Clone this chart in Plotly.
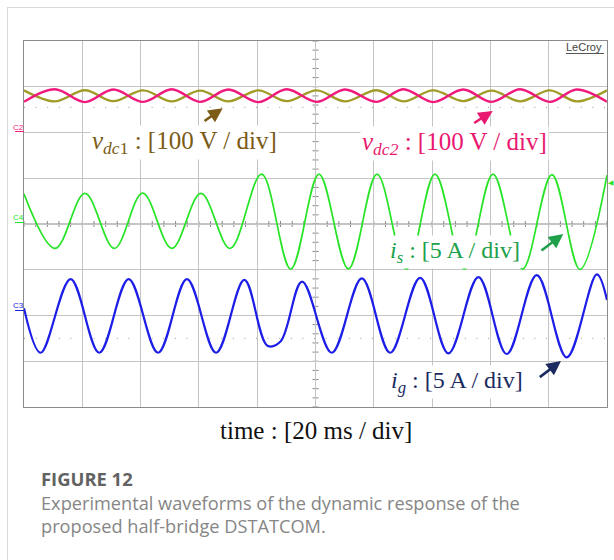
import plotly.graph_objects as go

# ---------------- data ----------------
# time in ms (20 ms/div, 10 divisions)
vdc_t = [0.0, 10.6, 20.9, 30.6, 40.9, 50.7, 60.4, 70.1, 80.4, 90.1, 100.4,
         110.1, 121.0, 130.1, 140.4, 150.7, 160.4, 170.2, 180.4, 189.6, 200.0]
# capacitor voltages in V, relative to the channel reference marker (100 V/div)
vdc1_v = [92, 68, 92.5, 68.5, 92, 68, 91.5, 68, 92, 68.5, 92,
          68, 92.5, 68, 92, 68.5, 91.5, 68, 92, 68, 92]
vdc2_v = [67, 94.5, 66.5, 94, 67, 94.5, 67, 94, 66.5, 94.5, 67,
          94, 67, 94.5, 66.5, 94, 67, 94.5, 67, 94, 67]

# source current i_s in A (5 A/div)
is_t = [0.0, 10.7, 20.9, 31.0, 40.7, 50.7, 60.7, 70.7, 81.5, 91.5, 101.2,
        111.3, 121.1, 131.2, 141.0, 151.1, 160.9, 171.0, 181.1, 190.7, 200.0]
is_v = [3.3, -2.67, 3.35, -2.67, 3.38, -2.67, 3.35, -2.67, 5.44, -4.93, 5.44,
        -4.91, 5.44, -4.93, 5.44, -4.93, 5.44, -4.93, 5.4, -4.96, 5.33]

# grid current i_g in A (5 A/div)
ig_t = [0.0, 5.7, 16.0, 25.8, 35.9, 46.0, 55.9, 65.9, 75.6, 83.5, 88.0, 95.4,
        105.6, 115.9, 125.6, 135.9, 145.6, 155.9, 165.6, 175.9, 186.2, 196.5, 200.0]
ig_v = [0.8, -4.07, 3.98, -4.07, 3.98, -4.07, 3.98, -4.07, 3.9, -3.3, -2.85, 3.71,
        -4.07, 4.05, -4.07, 4.12, -4.14, 4.2, -4.21, 4.41, -4.57, 4.49, 1.7]

# channel settings: (units per division, reference position in divisions)
CH = {"vdc": (100.0, 2.0), "is": (5.0, 0.0), "ig": (5.0, -2.0)}

# ---------------- geometry helpers ----------------
W, H = 614, 560
L, R, T, B = 24, 7, 41, 153
PW, PH = W - L - R, H - T - B
TSPAN, NDIV = 200.0, 8


def xd(px):
    return (px - L) / PW * TSPAN


def yd(py):
    return NDIV / 2 - (py - T) / PH * NDIV


def xp(px):
    return (px - L) / PW


def yp(py):
    return (H - B - py) / PH


def to_div(vals, ch):
    s, off = CH[ch]
    return [v / s + off for v in vals]


OLIVE = "#a19b28"
PINK = "#ef1a7b"
GREEN = "#27e427"
BLUE = "#1d1de8"

fig = go.Figure()
for t, v, ch, col, w in [
    (vdc_t, vdc1_v, "vdc", OLIVE, 2.4),
    (vdc_t, vdc2_v, "vdc", PINK, 2.4),
    (is_t, is_v, "is", GREEN, 1.7),
    (ig_t, ig_v, "ig", BLUE, 2.2),
]:
    fig.add_trace(go.Scatter(x=t, y=to_div(v, ch), mode="lines",
                             line=dict(color=col, width=w, shape="spline", smoothing=1),
                             hoverinfo="skip", showlegend=False))

shapes = []
# centre cross lines with minor ticks
shapes.append(dict(type="line", xref="x", yref="y", x0=100, x1=100, y0=-4, y1=4,
                   line=dict(color="#8a8a8a", width=1), layer="below"))
shapes.append(dict(type="line", xref="x", yref="y", x0=0, x1=200, y0=0, y1=0,
                   line=dict(color="#8a8a8a", width=1), layer="below"))
tx = 3 * TSPAN / PW
ty = 3 * NDIV / PH
for i in range(41):
    yy = -4 + i * 0.2
    shapes.append(dict(type="line", xref="x", yref="y", x0=100 - tx, x1=100 + tx, y0=yy, y1=yy,
                       line=dict(color="#8a8a8a", width=1), layer="below"))
for i in range(51):
    xx = i * 4
    shapes.append(dict(type="line", xref="x", yref="y", x0=xx, x1=xx, y0=-ty, y1=ty,
                       line=dict(color="#8a8a8a", width=1), layer="below"))
# dotted reference rows
for yy in (2.55, -2.5):
    shapes.append(dict(type="line", xref="x", yref="y", x0=0, x1=200, y0=yy, y1=yy,
                       line=dict(color="#9a9a9a", width=1, dash="1px,10.6px"), layer="below"))
# card border
shapes.append(dict(type="line", xref="paper", yref="paper", x0=xp(7.5), x1=xp(7.5),
                   y0=yp(7), y1=yp(560), line=dict(color="#d8d8d8", width=1)))
shapes.append(dict(type="line", xref="paper", yref="paper", x0=xp(7), x1=xp(614),
                   y0=yp(7.5), y1=yp(7.5), line=dict(color="#d8d8d8", width=1)))
# channel marker underlines
for py, col in ((131.5, PINK), (222.5, GREEN), (310.5, BLUE)):
    shapes.append(dict(type="line", xref="paper", yref="paper", x0=xp(15), x1=xp(24),
                       y0=yp(py), y1=yp(py), line=dict(color=col, width=1)))
# LeCroy underline
shapes.append(dict(type="line", xref="paper", yref="paper", x0=xp(566), x1=xp(604),
                   y0=yp(53.5), y1=yp(53.5), line=dict(color="#555", width=1)))

ann = []
SERIF = "Liberation Serif"


def label(text, px, py, col, size=25):
    ann.append(dict(text=text, xref="paper", yref="paper", x=xp(px), y=yp(py),
                    xanchor="center", yanchor="middle", showarrow=False,
                    font=dict(family=SERIF, size=size, color=col),
                    bgcolor="white", borderpad=1))


def arrow(hx, hy, tx_, ty_, col):
    ann.append(dict(text="", x=xd(hx), y=yd(hy), xref="x", yref="y",
                    ax=tx_ - hx, ay=ty_ - hy, axref="pixel", ayref="pixel",
                    showarrow=True, arrowhead=2, arrowsize=1.1, arrowwidth=2.6,
                    arrowcolor=col, standoff=0, startstandoff=0))


BROWN = "#7b5b16"
PINKT = "#e8196f"
GREENT = "#20a04a"
NAVY = "#1b2b5f"

label("<i>v</i><sub><i>dc</i>1</sub> : [100 V / div]", 184.5, 142, BROWN)
label("<i>v</i><sub><i>dc2</i></sub> : [100 V / div]", 454, 143, PINKT)
label("<i>i</i><sub><i>s</i></sub> : [5 A / div]", 455, 252, GREENT, 24)
label("<i>i</i><sub><i>g</i></sub> : [5 A / div]", 457, 382, NAVY, 24)
arrow(222.7, 108.3, 203, 122, BROWN)
arrow(492.7, 111, 472.7, 124, PINKT)
arrow(563.3, 234, 540, 251.7, GREENT)
arrow(561, 361, 538.3, 378.3, NAVY)

ann.append(dict(text="time : [20 ms / div]", xref="paper", yref="paper", x=xp(315.5), y=yp(430),
                xanchor="center", yanchor="middle", showarrow=False,
                font=dict(family=SERIF, size=25, color="#111")))

ann.append(dict(text="LeCroy", xref="paper", yref="paper", x=xp(604), y=yp(47.5),
                xanchor="right", yanchor="middle", showarrow=False,
                font=dict(family="Liberation Sans", size=11, color="#444")))
for txt, py, col in (("C2", 127, PINK), ("C4", 217, GREEN), ("C3", 305, BLUE)):
    ann.append(dict(text=txt, xref="paper", yref="paper", x=xp(18.5), y=yp(py),
                    xanchor="center", yanchor="middle", showarrow=False,
                    font=dict(family="Liberation Sans", size=8, color=col)))
ann.append(dict(text="◀", xref="paper", yref="paper", x=xp(610.5), y=yp(183),
                xanchor="center", yanchor="middle", showarrow=False,
                font=dict(family="DejaVu Sans", size=7, color=GREEN)))

ann.append(dict(text="<b>FIGURE 12</b>", xref="paper", yref="paper", x=xp(39), y=yp(478),
                xanchor="left", yanchor="middle", showarrow=False,
                font=dict(family="Open Sans", size=18.4, color="#626262")))
ann.append(dict(text="Experimental waveforms of the dynamic response of the",
                xref="paper", yref="paper", x=xp(39), y=yp(503),
                xanchor="left", yanchor="middle", showarrow=False,
                font=dict(family="Open Sans", size=18.2, color="#868686")))
ann.append(dict(text="proposed half-bridge DSTATCOM.",
                xref="paper", yref="paper", x=xp(39), y=yp(526),
                xanchor="left", yanchor="middle", showarrow=False,
                font=dict(family="Open Sans", size=18.2, color="#868686")))

fig.update_layout(
    width=W, height=H, margin=dict(l=L, r=R, t=T, b=B, autoexpand=False),
    paper_bgcolor="white", plot_bgcolor="white",
    shapes=shapes, annotations=ann, showlegend=False,
    xaxis=dict(range=[0, TSPAN], dtick=20, tick0=0, showgrid=True, gridcolor="#c4c4c4",
               gridwidth=1, zeroline=False, showticklabels=False, ticks="",
               showline=True, mirror=True, linecolor="#8c8c8c", linewidth=1, fixedrange=True),
    yaxis=dict(range=[-NDIV / 2, NDIV / 2], dtick=1, tick0=0, showgrid=True, gridcolor="#c4c4c4",
               gridwidth=1, zeroline=False, showticklabels=False, ticks="",
               showline=True, mirror=True, linecolor="#8c8c8c", linewidth=1, fixedrange=True),
)

fig.write_html("out.html", config={"displayModeBar": False},
               post_script="document.body.style.margin='0px';document.body.style.overflow='hidden';")
